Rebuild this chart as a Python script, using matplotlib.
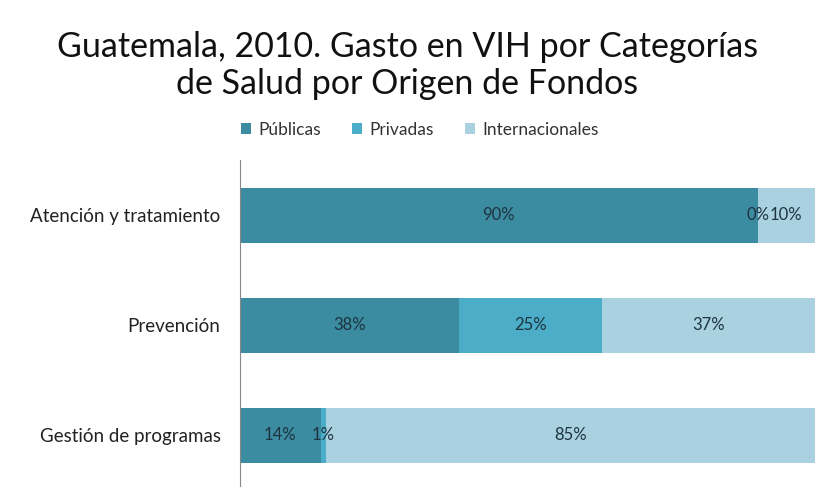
import matplotlib.pyplot as plt
import numpy as np

categorias = ['Atención y tratamiento', 'Prevención', 'Gestión de programas']
publicas = [90, 38, 14]
privadas = [0, 25, 1]
internacionales = [10, 37, 85]
series = ['Públicas', 'Privadas', 'Internacionales']
colores = ['#3B8BA1', '#4BADC7', '#A9D1DF']

plt.rcParams['font.family'] = ['Lato', 'DejaVu Sans']

fig = plt.figure(figsize=(8.15, 4.87), dpi=100)
ax = fig.add_axes([0.2945, 0.0, 0.7055, 0.6715])

y = np.arange(len(categorias))
left = np.zeros(len(categorias))
for nombre, vals, col in zip(series, [publicas, privadas, internacionales], colores):
    vals = np.array(vals, dtype=float) / 100
    bars = ax.barh(y, vals, left=left, height=0.5, color=col, label=nombre)
    for b, v, l in zip(bars, vals, left):
        ax.text(l + v / 2, b.get_y() + b.get_height() / 2, f'{v*100:.0f}%',
                ha='center', va='center', fontsize=12, color='#1E3440')
    left += vals

ax.set_xlim(0, 1)
ax.set_ylim(2.47, -0.5)
ax.set_yticks(y)
ax.set_yticklabels(categorias, fontsize=13.5, color='#222222')
ax.tick_params(axis='y', length=0, pad=14)
ax.set_xticks([])
for s in ['top', 'right', 'bottom']:
    ax.spines[s].set_visible(False)
ax.spines['left'].set_color('#888888')

fig.text(0.5, 0.866, 'Guatemala, 2010. Gasto en VIH por Categorías\nde Salud por Origen de Fondos',
         ha='center', va='center', fontsize=24.5, color='#111111', linespacing=1.2)
fig.legend(loc='center', bbox_to_anchor=(0.515, 0.733), ncol=3, frameon=False,
           fontsize=12.5, handlelength=0.6, handleheight=0.6, handletextpad=0.4,
           columnspacing=1.8, labelcolor='#333333')

fig.savefig('out.png', dpi=100)
